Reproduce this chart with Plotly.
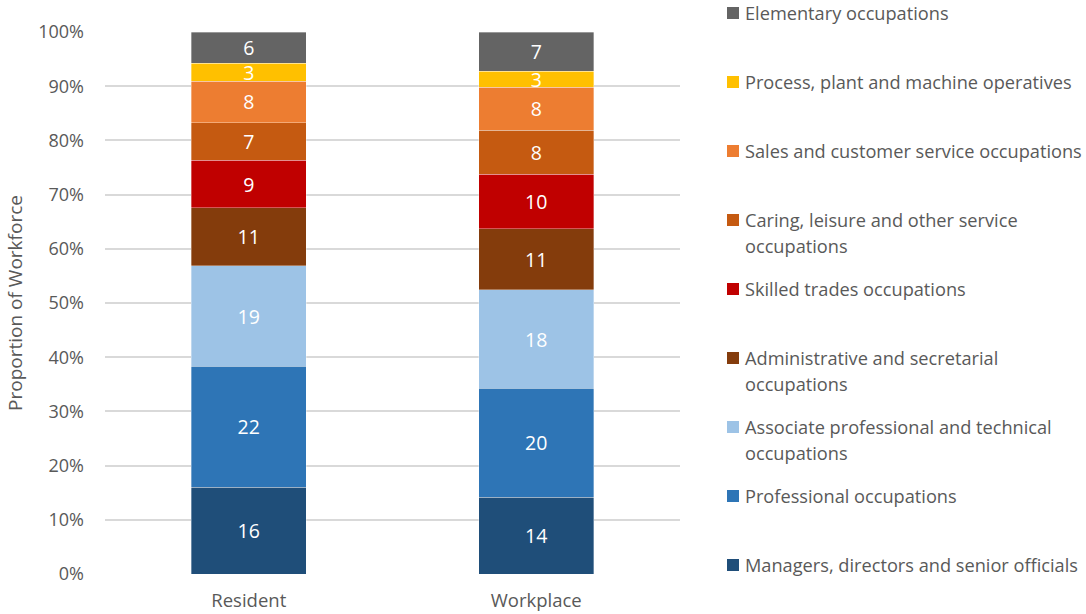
import plotly.graph_objects as go

categories = ["Resident", "Workplace"]

series_names = [
    "Managers, directors and senior officials",
    "Professional occupations",
    "Associate professional and technical occupations",
    "Administrative and secretarial occupations",
    "Skilled trades occupations",
    "Caring, leisure and other service occupations",
    "Sales and customer service occupations",
    "Process, plant and machine operatives",
    "Elementary occupations",
]

resident = [16.0, 22.3, 18.6, 10.7, 8.7, 7.0, 7.6, 3.3, 5.8]
workplace = [14.2, 20.1, 18.1, 11.3, 10.1, 8.1, 7.9, 3.0, 7.2]

legend_lines = [
    ["Managers, directors and senior officials"],
    ["Professional occupations"],
    ["Associate professional and technical", "occupations"],
    ["Administrative and secretarial", "occupations"],
    ["Skilled trades occupations"],
    ["Caring, leisure and other service", "occupations"],
    ["Sales and customer service occupations"],
    ["Process, plant and machine operatives"],
    ["Elementary occupations"],
]

colors = ["#1F4E79", "#2E75B6", "#9DC3E6", "#843C0C", "#C00000",
          "#C55A11", "#ED7D31", "#FFC000", "#646464"]

tick_vals = [0, 10, 20, 30, 40, 50, 60, 70, 80, 90, 100]
tick_text = [f"{v}%" for v in tick_vals]

FONT = "Open Sans"
GREY = "#595959"

fig = go.Figure()
for i, name in enumerate(series_names):
    vals = [resident[i], workplace[i]]
    fig.add_trace(go.Bar(
        x=categories, y=vals, name=name,
        marker=dict(color=colors[i], line=dict(width=0.75, color="rgba(255,255,255,0.45)")),
        text=[f"{round(v):d}" for v in vals],
        textposition="inside", insidetextanchor="middle",
        textangle=0, constraintext="none",
        textfont=dict(color="white", size=19.5, family=FONT),
        showlegend=False,
        hovertemplate="%{x}: %{y}<extra>" + name + "</extra>",
    ))

W, H = 1086, 614
L, T = 105, 32
R = W - 680
B = H - 574
pw = W - L - R
ph = H - T - B

def px_x(x):
    return (x - L) / pw

def px_y(y):
    return (H - B - y) / ph

annotations = []
shapes = []
# legend order top to bottom: reverse of stacking
for k, i in enumerate(reversed(range(len(series_names)))):
    y0 = 13 + 69 * k
    shapes.append(dict(
        type="rect", xref="paper", yref="paper",
        xsizemode="pixel", ysizemode="pixel",
        xanchor=px_x(727), yanchor=px_y(y0),
        x0=0, x1=12, y0=-6, y1=6,
        fillcolor=colors[i], line=dict(width=0),
    ))
    for j, line in enumerate(legend_lines[i]):
        annotations.append(dict(
            text=line, xref="paper", yref="paper",
            x=px_x(743), y=px_y(y0 + 26 * j),
            xanchor="left", yanchor="middle", showarrow=False,
            font=dict(family=FONT, size=18.2, color=GREY),
        ))

fig.update_layout(
    barmode="stack",
    bargap=0.6,
    width=W, height=H,
    margin=dict(l=L, r=R, t=T, b=B),
    plot_bgcolor="white", paper_bgcolor="white",
    font=dict(family=FONT, color=GREY, size=16),
    xaxis=dict(
        tickfont=dict(size=18.5, color=GREY),
        showgrid=False, showline=False, ticks="",
        ticklabelstandoff=13, automargin=False,
    ),
    yaxis=dict(
        range=[0, 100], tickvals=tick_vals, ticktext=tick_text,
        tickfont=dict(size=18, color=GREY),
        showgrid=True, gridcolor="#D9D9D9", gridwidth=1.5,
        zeroline=False, showline=False, ticks="",
        ticklabelstandoff=20, automargin=False,
        title=dict(text="Proportion of Workforce",
                   font=dict(size=19, color=GREY), standoff=10),
    ),
    annotations=annotations,
    shapes=shapes,
)

fig.write_html("out.html", config={"displayModeBar": False},
               post_script="document.body.style.margin='0';")
